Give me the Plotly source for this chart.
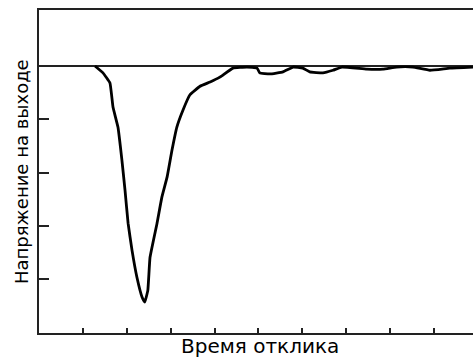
import plotly.graph_objects as go

time_vals = [1.276, 1.458, 1.617, 1.686, 1.80, 1.89, 1.96, 2.03, 2.12, 2.23, 2.35, 2.41,
             2.48, 2.53, 2.69, 2.80, 2.92, 3.03, 3.14, 3.28, 3.44, 3.67, 3.90, 4.12,
             4.42, 4.74, 4.97, 5.03, 5.26, 5.56, 5.79, 6.01, 6.17, 6.47, 6.70, 6.90,
             7.47, 7.84, 8.15, 8.52, 8.91, 9.36, 9.89]
voltage_vals = [0, -0.13, -0.32, -0.77, -1.15, -1.77, -2.33, -2.95, -3.46, -3.96, -4.34, -4.43,
                -4.21, -3.59, -2.95, -2.46, -2.08, -1.58, -1.15, -0.83, -0.54, -0.38, -0.30, -0.21,
                -0.04, -0.02, -0.04, -0.13, -0.15, -0.11, -0.02, -0.04, -0.11, -0.13, -0.08, -0.02,
                -0.06, -0.06, -0.02, -0.02, -0.08, -0.04, -0.02]
x_ticks = [1, 2, 3, 4, 5, 6, 7, 8, 9]
y_ticks = [-1, -2, -3, -4]
x_title = "Время отклика"
y_title = "Напряжение на выходе"

fig = go.Figure()
fig.add_trace(go.Scatter(x=time_vals, y=voltage_vals, mode="lines",
                         line=dict(color="black", width=2.8, shape="spline", smoothing=0.3),
                         hoverinfo="skip", showlegend=False))

fig.update_layout(
    width=473, height=358,
    margin=dict(l=39, r=0, t=10, b=25),
    paper_bgcolor="white", plot_bgcolor="white",
    font=dict(family="DejaVu Sans, sans-serif", size=18, color="black"),
    xaxis=dict(range=[0, 9.89], showgrid=False, zeroline=False,
               showline=True, linecolor="#222", linewidth=2, mirror=True,
               ticks="inside", ticklen=5, tickwidth=2, tickcolor="#222",
               tickvals=x_ticks, showticklabels=False, fixedrange=True),
    yaxis=dict(range=[-5.01, 1.05], showgrid=False,
               zeroline=True, zerolinecolor="#222", zerolinewidth=2,
               showline=True, linecolor="#222", linewidth=2,
               ticks="inside", ticklen=10, tickwidth=2, tickcolor="#222",
               tickvals=y_ticks, showticklabels=False, fixedrange=True),
    annotations=[
        dict(text=x_title, xref="paper", yref="paper", x=(260 - 39) / 434, y=(333 - 346) / 323,
             xanchor="center", yanchor="middle", showarrow=False, font=dict(size=20)),
        dict(text=y_title, xref="paper", yref="paper", x=(21 - 39) / 434, y=(333 - 172) / 323,
             xanchor="center", yanchor="middle", textangle=-90, showarrow=False,
             font=dict(size=18)),
    ],
)

fig.write_html("out.html")
